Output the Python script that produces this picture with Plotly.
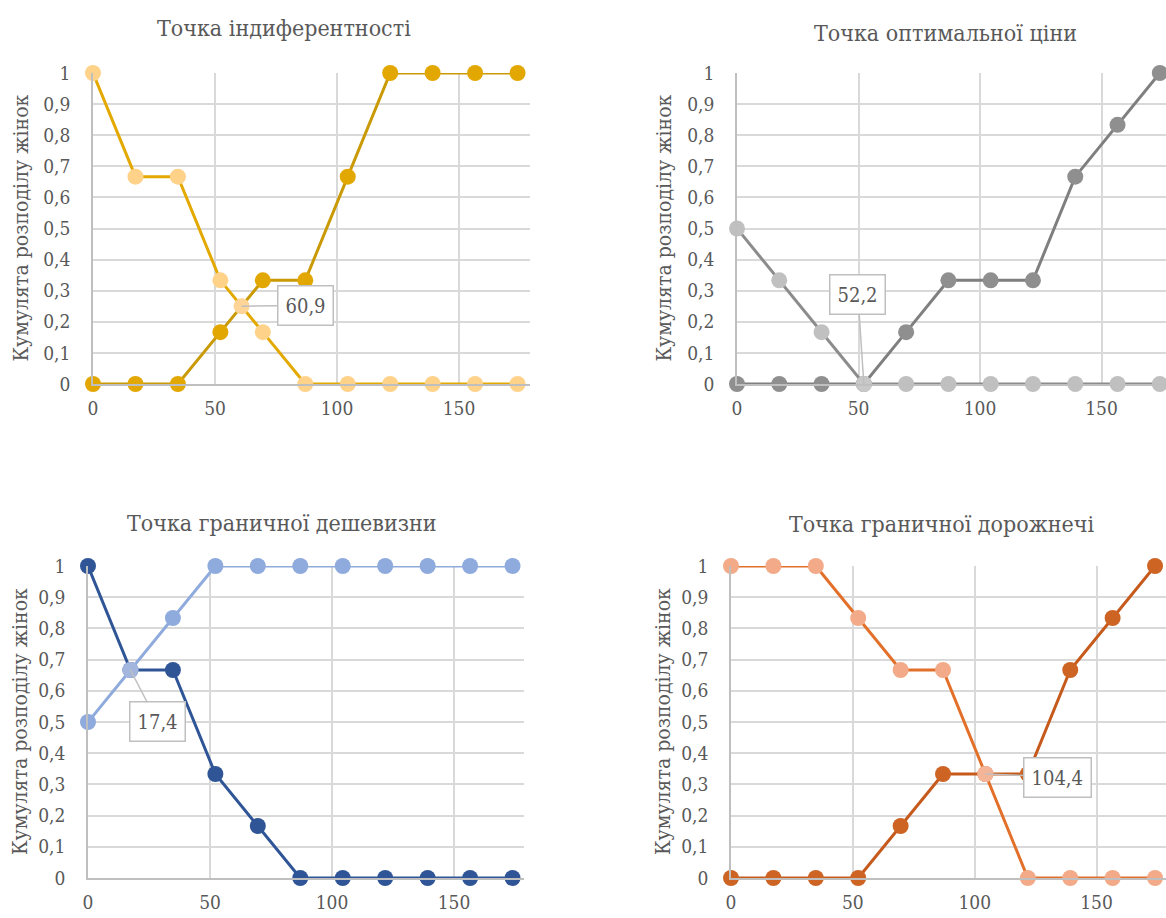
import plotly.graph_objects as go

# Price grid shared by all four panels
prices = [0, 17.4, 34.8, 52.2, 69.6, 87, 104.4, 121.8, 139.2, 156.6, 174]

titles = [
    "Точка індиферентності",
    "Точка оптимальної ціни",
    "Точка граничної дешевизни",
    "Точка граничної дорожнечі",
]
y_title = "Кумулята розподілу жінок"

# Cumulative shares, one pair of curves per panel
indiff_falling = [1, 0.6667, 0.6667, 0.3333, 0.1667, 0, 0, 0, 0, 0, 0]
indiff_rising = [0, 0, 0, 0.1667, 0.3333, 0.3333, 0.6667, 1, 1, 1, 1]

optimal_falling = [0.5, 0.3333, 0.1667, 0, 0, 0, 0, 0, 0, 0, 0]
optimal_rising = [0, 0, 0, 0, 0.1667, 0.3333, 0.3333, 0.3333, 0.6667, 0.8333, 1]

cheap_falling = [1, 0.6667, 0.6667, 0.3333, 0.1667, 0, 0, 0, 0, 0, 0]
cheap_rising = [0.5, 0.6667, 0.8333, 1, 1, 1, 1, 1, 1, 1, 1]

expensive_falling = [1, 1, 1, 0.8333, 0.6667, 0.6667, 0.3333, 0, 0, 0, 0]
expensive_rising = [0, 0, 0, 0, 0.1667, 0.3333, 0.3333, 0.3333, 0.6667, 0.8333, 1]

# Crossing points (price, share)
cross_x = [60.9, 52.2, 17.4, 104.4]
cross_y = [0.25, 0, 0.6667, 0.3333]

W, H = 1166, 918
FONT = "DejaVu Serif Condensed, DejaVu Serif"
TXT = "#595959"
GRID = "#D9D9D9"
AXIS = "#BFBFBF"

# panel geometry in pixels: x of price 0, px per unit, right edge, top (share 1), bottom (share 0)
panels = [
    dict(x0=93, k=2.44, right=530, top=73, bottom=384),
    dict(x0=737, k=2.43, right=1166, top=73, bottom=384),
    dict(x0=88, k=2.44, right=524, top=566, bottom=878),
    dict(x0=731, k=2.437, right=1166, top=566, bottom=878),
]

series = [
    # (dark curve, light curve, dark line, dark marker, light line, light marker, cross marker)
    (indiff_rising, indiff_falling, "#C99A06", "#E2A700", "#E3A900", "#FFD28A", "#FFD497"),
    (optimal_rising, optimal_falling, "#7F7F7F", "#8F8F8F", "#8C8C8C", "#C0C0C0", "#C8C8C8"),
    (cheap_falling, cheap_rising, "#2F5597", "#2F5597", "#8FAADC", "#8FAADC", "#A2B6DE"),
    (expensive_rising, expensive_falling, "#C55A1C", "#CD6424", "#E2702A", "#F2AA88", "#F4B498"),
]

label_offsets = [(64, -1), (-6, -90), (27, 52), (72, 3)]

fig = go.Figure()
layout = dict(
    width=W, height=H, margin=dict(l=0, r=0, t=0, b=0, autoexpand=False),
    paper_bgcolor="white", plot_bgcolor="white",
    showlegend=False, separators=", ",
    font=dict(family=FONT, size=20, color=TXT),
)
annotations = []

for i, (p, s) in enumerate(zip(panels, series)):
    n = "" if i == 0 else str(i + 1)
    xa, ya = "x" + n, "y" + n
    dark, light, dline, dmark, lline, lmark, cmark = s
    fig.add_trace(go.Scatter(
        x=prices, y=dark, xaxis=xa, yaxis=ya, mode="lines+markers",
        line=dict(color=dline, width=3), marker=dict(color=dmark, size=16),
        cliponaxis=False, hoverinfo="skip"))
    fig.add_trace(go.Scatter(
        x=prices, y=light, xaxis=xa, yaxis=ya, mode="lines+markers",
        line=dict(color=lline, width=3), marker=dict(color=lmark, size=16),
        cliponaxis=False, hoverinfo="skip"))
    fig.add_trace(go.Scatter(
        x=[cross_x[i]], y=[cross_y[i]], xaxis=xa, yaxis=ya, mode="markers",
        marker=dict(color=cmark, size=16), cliponaxis=False, hoverinfo="skip"))

    xmax = (p["right"] - p["x0"]) / p["k"]
    layout["xaxis" + n] = dict(
        domain=[p["x0"] / W, p["right"] / W], range=[0, xmax], anchor=ya,
        tickvals=[0, 50, 100, 150], showgrid=True, gridcolor=GRID, gridwidth=1.5,
        zeroline=False, showline=True, linecolor=AXIS, linewidth=1.5,
        ticks="outside", ticklen=6, tickcolor="rgba(0,0,0,0)", automargin=False,
        tickfont=dict(family=FONT, size=19, color=TXT), fixedrange=True)
    layout["yaxis" + n] = dict(
        domain=[1 - p["bottom"] / H, 1 - p["top"] / H], range=[0, 1], anchor=xa,
        dtick=0.1, tick0=0, showgrid=True, gridcolor=GRID, gridwidth=1.5,
        zeroline=False, showline=True, linecolor=AXIS, linewidth=1.5,
        ticks="outside", ticklen=17, tickcolor="rgba(0,0,0,0)", automargin=False,
        tickfont=dict(family=FONT, size=19, color=TXT), fixedrange=True)

    # panel title
    cx = [284, 945, 282, 942][i]
    cy = [28, 33, 523, 524][i]
    annotations.append(dict(
        text=titles[i], x=cx / W, y=1 - cy / H, xref="paper", yref="paper",
        xanchor="center", yanchor="middle", showarrow=False,
        font=dict(family=FONT, size=23, color=TXT)))
    # vertical axis title
    tx = [20, 663, 20, 663][i]
    annotations.append(dict(
        text=y_title, textangle=-90, x=tx / W,
        y=1 - (p["top"] + p["bottom"]) / 2 / H, xref="paper", yref="paper",
        xanchor="center", yanchor="middle", showarrow=False,
        font=dict(family=FONT, size=21, color=TXT)))
    # crossing-point callout
    ax, ay = label_offsets[i]
    annotations.append(dict(
        text=f"{cross_x[i]:.1f}".replace(".", ","), x=cross_x[i], y=cross_y[i],
        xref=xa, yref=ya, showarrow=True, arrowhead=0, arrowwidth=1.5,
        arrowcolor=AXIS, ax=ax, ay=ay, bgcolor="white", bordercolor=AXIS,
        borderwidth=1.5, borderpad=7, font=dict(family=FONT, size=20, color=TXT)))

layout["annotations"] = annotations
fig.update_layout(**layout)
fig.write_html("out.html")
